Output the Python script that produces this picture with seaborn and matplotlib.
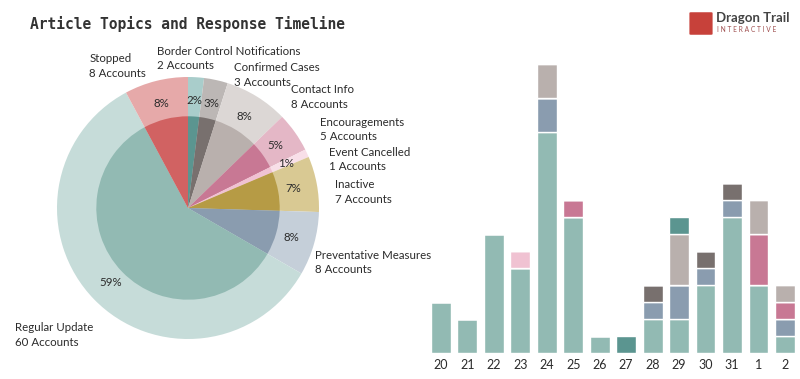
import matplotlib
matplotlib.use('Agg')
import matplotlib.pyplot as plt
import seaborn as sns
import pandas as pd
from matplotlib.patches import FancyBboxPatch

# Topics (alphabetical, as in the pie) and account counts
topics = ['Border Control Notifications', 'Confirmed Cases', 'Contact Info', 'Encouragements',
          'Event Cancelled', 'Inactive', 'Preventative Measures', 'Regular Update', 'Stopped']
accounts = [2, 3, 8, 5, 1, 7, 8, 60, 8]

# Daily timeline (Jan 20 - Feb 2)
days = ['20', '21', '22', '23', '24', '25', '26', '27', '28', '29', '30', '31', '1', '2']
regular_update = [3, 2, 7, 5, 13, 8, 1, 0, 2, 2, 4, 8, 4, 1]
preventative = [0, 0, 0, 0, 2, 0, 0, 0, 1, 2, 1, 1, 0, 1]
confirmed = [0, 0, 0, 0, 0, 0, 0, 0, 1, 0, 1, 1, 0, 0]
contact_info = [0, 0, 0, 0, 2, 0, 0, 0, 0, 3, 0, 0, 2, 1]
encouragements = [0, 0, 0, 0, 0, 1, 0, 0, 0, 0, 0, 0, 3, 1]
event_cancelled = [0, 0, 0, 1, 0, 0, 0, 0, 0, 0, 0, 0, 0, 0]
border_control = [0, 0, 0, 0, 0, 0, 0, 1, 0, 1, 0, 0, 0, 0]

dark = ['#5b9590', '#78706e', '#b9b0ad', '#c87894', '#f0c2d2', '#b69b45', '#8a9caf', '#92bab3', '#d16262']
light = ['#a9cdcb', '#bcb7b5', '#dcd7d5', '#e4b7c6', '#f8dfe8', '#d9c993', '#c5cfd9', '#c6dcd9', '#e6a9a9']

sns.set_theme(style='white')
plt.rcParams['font.family'] = ['Lato', 'DejaVu Sans']
txt = '#2b2b2b'

fig = plt.figure(figsize=(8, 3.79), dpi=100)

# ---- stacked bars (drawn first so pie labels sit on top) ----
stack_order = ['Border Control Notifications', 'Contact Info', 'Event Cancelled', 'Encouragements',
               'Confirmed Cases', 'Preventative Measures', 'Regular Update']
series = {
    'Regular Update': regular_update,
    'Preventative Measures': preventative,
    'Confirmed Cases': confirmed,
    'Encouragements': encouragements,
    'Event Cancelled': event_cancelled,
    'Contact Info': contact_info,
    'Border Control Notifications': border_control,
}
rows = []
for topic, vals in series.items():
    for i, v in enumerate(vals):
        rows.append({'pos': i, 'topic': topic, 'count': v})
df = pd.DataFrame(rows)
palette = dict(zip(topics, dark))

bx = fig.add_axes([420 / 800, 26 / 379, 380 / 800, 308 / 379])
bx.patch.set_alpha(0)
sns.histplot(data=df, x='pos', weights='count', hue='topic', hue_order=stack_order,
             multiple='stack', discrete=True, shrink=0.75, palette=palette, alpha=1,
             edgecolor='white', linewidth=1, legend=False, ax=bx)
bx.set_xlim(-0.79, 13.57)
bx.set_ylim(0, 18.1)
bx.set_xticks(range(len(days)))
bx.set_xticklabels(days, fontsize=9, color=txt)
bx.tick_params(axis='x', length=0, pad=4)
bx.set_yticks([])
bx.set_xlabel('')
bx.set_ylabel('')
sns.despine(ax=bx, left=True, bottom=True)

# ---- pie (outer light ring + inner dark pie) ----
ax = fig.add_axes([57 / 800, 40 / 379, 262 / 800, 262 / 379])
ax.set_zorder(3)
ax.patch.set_alpha(0)
ax.pie(accounts, colors=light, radius=1.0, startangle=90, counterclock=False,
       wedgeprops={'linewidth': 0},
       autopct=lambda p: f'{p:.0f}%', pctdistance=0.82,
       textprops={'fontsize': 8.3, 'color': txt})
ax.pie(accounts, colors=dark, radius=0.7, startangle=90, counterclock=False,
       wedgeprops={'linewidth': 0})
ax.set_xlim(-1, 1)
ax.set_ylim(-1, 1)
ax.set_aspect('equal')

# outside labels, placed like the original (two lines each)
label_pos = [(-0.24, 1.14), (0.354, 1.015), (0.785, 0.846), (1.008, 0.6), (1.077, 0.369),
             (1.123, 0.123), (0.969, -0.415), (-1.323, -0.969), (-0.754, 1.085)]
half = 0.056
for name, n, (lx, ly) in zip(topics, accounts, label_pos):
    ax.text(lx, ly + half, name, ha='left', va='center', fontsize=8.3, color=txt)
    ax.text(lx, ly - half, f'{n} Accounts', ha='left', va='center', fontsize=8.3, color=txt)

fig.text(30 / 800, 1 - 24 / 379, 'Article Topics and Response Timeline',
         family='DejaVu Sans Mono', fontweight='bold', fontsize=10.5, color='#333333',
         va='center')

# ---- logo ----
fig.patches.append(FancyBboxPatch((691 / 800, 1 - 34 / 379), 20 / 800, 21 / 379,
                                  boxstyle='round,pad=0.002', transform=fig.transFigure,
                                  facecolor='#c7413a', edgecolor='none'))
fig.text(716 / 800, 1 - 18 / 379, 'Dragon Trail', fontsize=9.5, fontweight='bold',
         color='#444444', va='center')
fig.text(717 / 800, 1 - 30 / 379, 'I N T E R A C T I V E', fontsize=4.8,
         color='#a05050', va='center')

fig.savefig('out.png', dpi=100)
